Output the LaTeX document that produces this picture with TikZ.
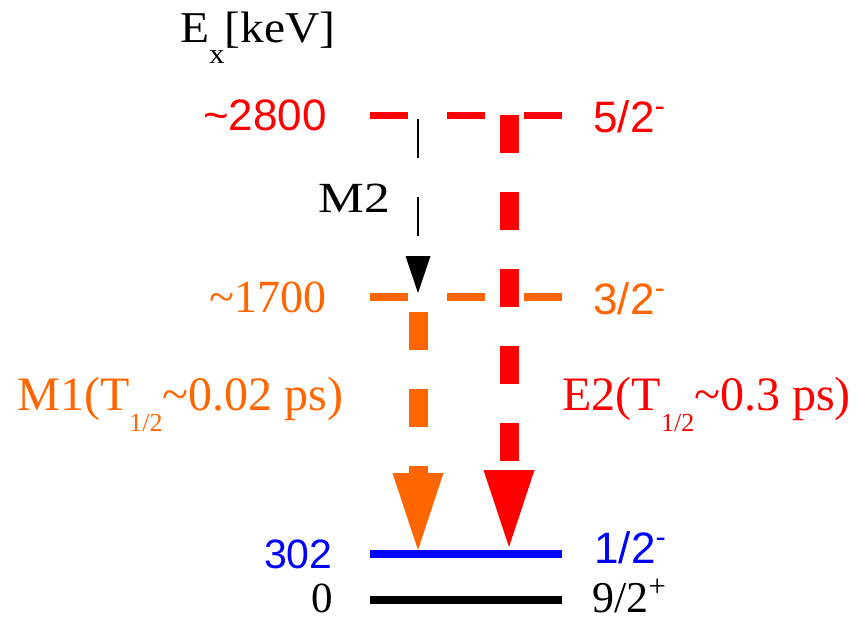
\documentclass[tikz,border=0pt]{standalone}
\usepackage{fontspec}
\setmainfont{Liberation Serif}
\setsansfont{Liberation Sans}
\newfontfamily\wideserif[FakeStretch=1.2]{Liberation Serif}
\newfontfamily\exserif[FakeStretch=1.08]{Liberation Serif}
\usetikzlibrary{arrows.meta}
\definecolor{levred}{RGB}{255,0,0}
\definecolor{levorange}{RGB}{255,102,0}
\definecolor{levblue}{RGB}{0,0,255}

\begin{document}
\begin{tikzpicture}
		[x=0.5pt, y=-0.5pt, every node/.style={inner sep=0pt},
		level/.style={line width=3.75pt},
		dashlevel/.style={level, dash pattern=on 19pt off 19.5pt},
		energy/.style={anchor=base east, font=\fontsize{22}{22}\selectfont},
		spin/.style={anchor=base west, font=\sffamily\fontsize{22}{22}\selectfont},
		gammaline/.style={line width=9.5pt, dash pattern=on 19pt off 19.5pt,
			-{Triangle[length=38.5pt, width=25.5pt, line width=0pt]}},
		transition/.style={anchor=base west, font=\fontsize{24}{24}\selectfont}]
	\useasboundingbox (0,0) rectangle (861,623);

	\coordinate (l2800-w) at (370,115.5);
	\coordinate (l2800-e) at (562,115.5);
	\coordinate (l1700-w) at (370,297);
	\coordinate (l1700-e) at (562,297);
	\coordinate (l302-w) at (370,554);
	\coordinate (l302-e) at (562,554);
	\coordinate (l0-w) at (370,600);
	\coordinate (l0-e) at (562,600);

	\draw[dashlevel, levred] (l2800-w) -- (l2800-e);
	\draw[dashlevel, levorange] (l1700-w) -- (l1700-e);
	\draw[level, levblue] (l302-w) -- (l302-e);
	\draw[level, black] (l0-w) -- (l0-e);

	\coordinate (m2-s) at (418,119);
	\coordinate (m2-e) at (418,293);
	\coordinate (e2-s) at (509,115);
	\coordinate (e2-e) at (509,547);
	\coordinate (m1-s) at (418,297);
	\coordinate (m1-e) at (418,550);

	\draw[line width=1pt, dash pattern=on 19.5pt off 19.5pt,
		-{Triangle[length=18.5pt, width=12.5pt, line width=0pt]}] (m2-s) -- (m2-e);
	\draw[gammaline, levred] (e2-s) -- (e2-e);
	\draw[gammaline, levorange, dash phase=31pt] (m1-s) -- (m1-e);

	\node[anchor=base west, font=\exserif\fontsize{22}{22}\selectfont] (ex) at (180,42)
		{E\raisebox{-0.48em}{\fontsize{14}{14}\selectfont x}[keV]};
	\node[energy, levred, font=\sffamily\fontsize{22}{22}\selectfont] (e2800) at (327,130) {\textasciitilde 2800};
	\node[energy, levorange, font=\fontsize{23}{22}\selectfont] (e1700) at (327,312) {\textasciitilde 1700};
	\node[energy, levblue, font=\sffamily\fontsize{20.5}{22}\selectfont] (e302) at (333,568) {302};
	\node[energy, black, font=\fontsize{21.5}{22}\selectfont] (e0) at (333,612) {0};

	\node[spin, levred] (j2800) at (593,132) {5/2\textsuperscript{-}};
	\node[spin, levorange] (j1700) at (593,314) {3/2\textsuperscript{-}};
	\node[spin, levblue] (j302) at (594,563) {1/2\textsuperscript{-}};
	\node[spin, black, font=\fontsize{22}{22}\selectfont] (j0) at (592,612) {9/2\textsuperscript{+}};

	\node[anchor=base east, font=\wideserif\fontsize{21.5}{22}\selectfont] (m2) at (391,212) {M2};
	\node[transition, levorange] (m1) at (17,410)
		{M1(T\raisebox{-0.45em}{\fontsize{13}{13}\selectfont 1/2}\textasciitilde 0.02 ps)};
	\node[transition, levred] (e2) at (562,410)
		{E2(T\raisebox{-0.45em}{\fontsize{13}{13}\selectfont 1/2}\textasciitilde 0.3 ps)};
\end{tikzpicture}
\end{document}
